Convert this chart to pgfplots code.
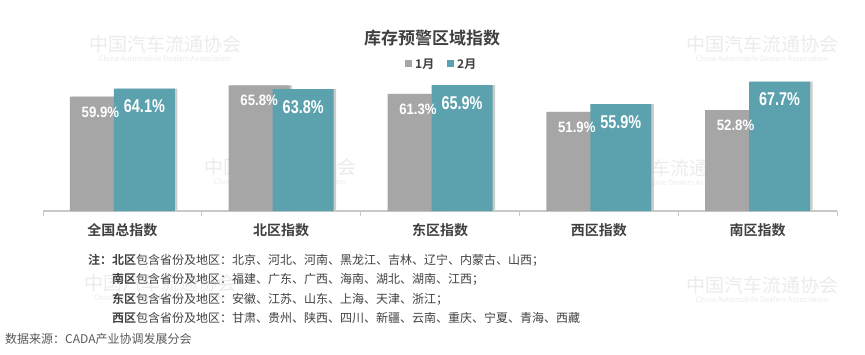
\documentclass[border=0pt]{standalone}
\usepackage{pgfplots}
\pgfplotsset{compat=1.18}
\usepackage{pgfplotstable}
\usepackage{graphicx}
\usepackage{fontspec}
\setmainfont{Noto Sans CJK SC}[BoldFont=Noto Sans CJK SC Bold]
\newfontfamily\numfont{Liberation Sans}
\definecolor{cgray}{HTML}{A6A6A6}
\definecolor{cteal}{HTML}{5BA2AE}
\definecolor{ctext}{HTML}{404040}
\definecolor{csrc}{HTML}{595959}
\definecolor{cwm}{HTML}{EBEBEB}
\definecolor{caxis}{HTML}{C8C8C8}
\pgfplotstableread{
x a b
0 59.9 64.1
1 65.8 63.8
2 61.3 65.9
3 51.9 55.9
4 52.8 67.7
}\data
\begin{document}
\begin{tikzpicture}[x=1pt,y=1pt]
\path[use as bounding box] (0,0) rectangle (865,354);
% watermarks
\foreach \cx/\cy in {165/44, 762/44, 280/167, 670/168, 160/283, 762/285}{
  \node[text=cwm, font=\fontsize{19}{20}\selectfont, inner sep=0] at (\cx,354-\cy) {中国汽车流通协会};
  \node[text=cwm, font=\fontsize{7.5}{8}\selectfont, inner sep=0] at (\cx,354-\cy-15) {China Automobile Dealers Association};
}
\begin{axis}[
  at={(43pt,143pt)}, anchor=south west,
  scale only axis, width=794pt, height=133.7pt,
  xmin=-0.5, xmax=4.5, ymin=0, ymax=70,
  clip=false,
  axis x line=bottom, axis y line=none,
  axis line style={-, draw=caxis, line width=1.3pt},
  xtick={0,...,4},
  xticklabels={全国总指数,北区指数,东区指数,西区指数,南区指数},
  major tick length=0pt,
  minor xtick={-0.5,0.5,...,4.5},
  minor tick length=5pt,
  tick align=outside,
  minor tick style={draw=caxis, line width=1pt},
  xticklabel style={anchor=center, yshift=-19.5pt, font=\fontsize{14}{15}\selectfont\bfseries, text=ctext},
  /pgf/number format/assume math mode=true,
]
\addplot[ybar, bar width=61pt, bar shift=-22pt, fill=cgray, draw=none,
  preaction={fill=black!20, transform canvas={xshift=2.5pt}}] table[x=x,y=a]{\data};
\addplot[ybar, bar width=61pt, bar shift=22pt, fill=cteal, draw=none,
  preaction={fill=black!20, transform canvas={xshift=2.5pt}}] table[x=x,y=b]{\data};
\addplot[draw=none, mark=none,
  nodes near coords={\scalebox{0.88}[1]{\pgfmathprintnumber[fixed,fixed zerofill,precision=1]{\pgfplotspointmeta}\%}},
  every node near coord/.append style={anchor=north, inner sep=0pt, xshift=-22pt, yshift=-10pt, text=white, font=\numfont\bfseries\fontsize{15}{16}\selectfont}] table[x=x,y=a]{\data};
\addplot[draw=none, mark=none,
  nodes near coords={\scalebox{0.78}[1]{\pgfmathprintnumber[fixed,fixed zerofill,precision=1]{\pgfplotspointmeta}\%}},
  every node near coord/.append style={anchor=north, inner sep=0pt, xshift=22pt, yshift=-11pt, text=white, font=\numfont\bfseries\fontsize{18.5}{19}\selectfont}] table[x=x,y=b]{\data};
\end{axis}
% title
\node[text=ctext, font=\fontsize{17}{18}\selectfont\bfseries] at (432,354-38) {库存预警区域指数};
% legend
\fill[cgray] (405,354-67.5) rectangle (412,354-60.5);
\node[anchor=west, inner sep=0, text=ctext, font=\fontsize{12}{13}\selectfont\bfseries] at (415,354-64) {1月};
\fill[cteal] (447,354-67.5) rectangle (454,354-60.5);
\node[anchor=west, inner sep=0, text=ctext, font=\fontsize{12}{13}\selectfont\bfseries] at (457,354-64) {2月};
% notes
\begin{scope}[every node/.style={anchor=west, inner sep=0, text=ctext, font=\fontsize{12}{13}\selectfont}]
\node at (88,354-260) {\textbf{注：北区}包含省份及地区：北京、河北、河南、黑龙江、吉林、辽宁、内蒙古、山西；};
\node at (112,354-279.5) {\textbf{南区}包含省份及地区：福建、广东、广西、海南、湖北、湖南、江西；};
\node at (112,354-299) {\textbf{东区}包含省份及地区：安徽、江苏、山东、上海、天津、浙江；};
\node at (112,354-318) {\textbf{西区}包含省份及地区：甘肃、贵州、陕西、四川、新疆、云南、重庆、宁夏、青海、西藏};
\end{scope}
\node[anchor=west, inner sep=0, text=csrc, font=\fontsize{12}{13}\selectfont] at (5,354-339) {数据来源：CADA产业协调发展分会};
\end{tikzpicture}
\end{document}
